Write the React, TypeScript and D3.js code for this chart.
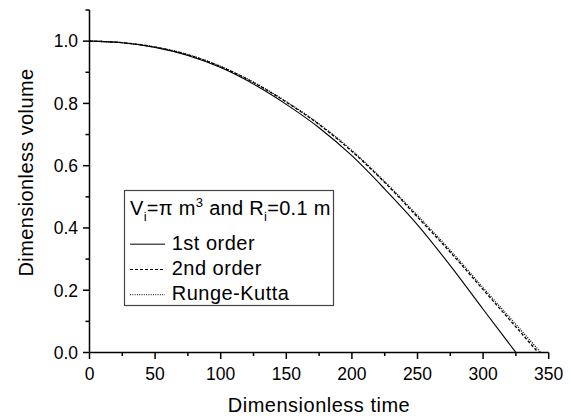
import React from 'react'
import * as d3 from 'd3'

// values
const times1 = [0, 25, 50, 75, 100, 125, 150, 175, 200, 225, 250, 275, 300, 325]
const order1 = [1.0, 0.995, 0.980, 0.954, 0.915, 0.862, 0.797, 0.722, 0.632, 0.525, 0.41, 0.279, 0.139, 0.0]

const times2 = [0, 25, 50, 75, 100, 125, 150, 175, 200, 225, 250, 275, 300, 325, 342]
const order2 = [1.0, 0.995, 0.981, 0.956, 0.918, 0.867, 0.804, 0.732, 0.646, 0.546, 0.435, 0.322, 0.202, 0.082, 0.0]

const timesRK = [0, 25, 50, 75, 100, 125, 150, 175, 200, 225, 250, 275, 300, 325, 344]
const rungeKutta = [1.0, 0.995, 0.981, 0.957, 0.919, 0.868, 0.806, 0.734, 0.649, 0.549, 0.44, 0.328, 0.208, 0.09, 0.0]

const xTicks = [0, 50, 100, 150, 200, 250, 300, 350]
const xMinor = [25, 75, 125, 175, 225, 275, 325]
const yTicks = [0, 0.2, 0.4, 0.6, 0.8, 1.0]
const yMinor = [0.1, 0.3, 0.5, 0.7, 0.9, 1.1]

const legendLabels = ['1st order', '2nd order', 'Runge-Kutta']
const dashes = ['none', '3,2', '1,1.3']

const W = 571, H = 419
const left = 89.5, right = 548.7, top = 10, bottom = 352.5
const font = 'Arial, "Liberation Sans", sans-serif'

export default function App() {
  const x = d3.scaleLinear().domain([0, 350]).range([left, right])
  const y = d3.scaleLinear().domain([0, 1.1]).range([bottom, top])

  const line = d3.line<[number, number]>()
    .x(d => x(d[0]))
    .y(d => y(d[1]))
    .curve(d3.curveMonotoneX)

  const series = [
    times1.map((t, i) => [t, order1[i]] as [number, number]),
    times2.map((t, i) => [t, order2[i]] as [number, number]),
    timesRK.map((t, i) => [t, rungeKutta[i]] as [number, number]),
  ]

  return (
    <svg width={W} height={H} style={{ position: 'absolute', left: 0, top: 0, background: '#fff' }}
      fontFamily={font}>
      {/* curves */}
      {series.map((s, i) => (
        <path key={i} d={line(s) || ''} fill="none" stroke="#000" strokeWidth={i === 0 ? 1.1 : 1.3}
          strokeDasharray={dashes[i]} />
      ))}

      {/* axes */}
      <line x1={left} x2={left} y1={top} y2={bottom} stroke="#000" strokeWidth={1.5} />
      <line x1={left} x2={right} y1={bottom} y2={bottom} stroke="#000" strokeWidth={1.5} />

      {xTicks.map(t => (
        <g key={'x' + t}>
          <line x1={x(t)} x2={x(t)} y1={bottom} y2={bottom + 6.5} stroke="#000" strokeWidth={1.5} />
          <text x={x(t)} y={380} textAnchor="middle" fontSize={17.5}>{t}</text>
        </g>
      ))}
      {xMinor.map(t => (
        <line key={'xm' + t} x1={x(t)} x2={x(t)} y1={bottom} y2={bottom + 3.5} stroke="#000" strokeWidth={1.5} />
      ))}

      {yTicks.map(t => (
        <g key={'y' + t}>
          <line x1={left - 6.5} x2={left} y1={y(t)} y2={y(t)} stroke="#000" strokeWidth={1.5} />
          <text x={78} y={y(t) + 6.3} textAnchor="end" fontSize={17.5}>{t.toFixed(1)}</text>
        </g>
      ))}
      {yMinor.map(t => (
        <line key={'ym' + t} x1={left - 4} x2={left} y1={y(t)} y2={y(t)} stroke="#000" strokeWidth={1.5} />
      ))}

      <text x={319} y={411.5} textAnchor="middle" fontSize={20} letterSpacing={0.5}>Dimensionless time</text>
      <text transform="translate(33.3,172.5) rotate(-90)" textAnchor="middle"
        fontSize={20} letterSpacing={0.4}>
        Dimensionless volume
      </text>

      {/* legend */}
      <rect x={124.5} y={190.5} width={209} height={115} fill="#fff" stroke="#444" strokeWidth={1.2} />
      <text x={130} y={215} fontSize={20} letterSpacing={0.3}>
        V<tspan fontSize={13} dy={6}>i</tspan>
        <tspan dy={-6}>=π m</tspan>
        <tspan fontSize={13} dy={-8}>3</tspan>
        <tspan dy={8}> and R</tspan>
        <tspan fontSize={13} dy={6}>i</tspan>
        <tspan dy={-6}>=0.1 m</tspan>
      </text>
      {legendLabels.map((lab, i) => (
        <g key={lab}>
          <line x1={130} x2={165} y1={244.3 + i * 25.2} y2={244.3 + i * 25.2} stroke={i === 0 ? '#555' : '#000'}
            strokeWidth={i === 0 ? 1.5 : 1} strokeDasharray={dashes[i]} />
          <text x={171.7} y={250 + i * 25} fontSize={20} letterSpacing={0.5}>{lab}</text>
        </g>
      ))}
    </svg>
  )
}
